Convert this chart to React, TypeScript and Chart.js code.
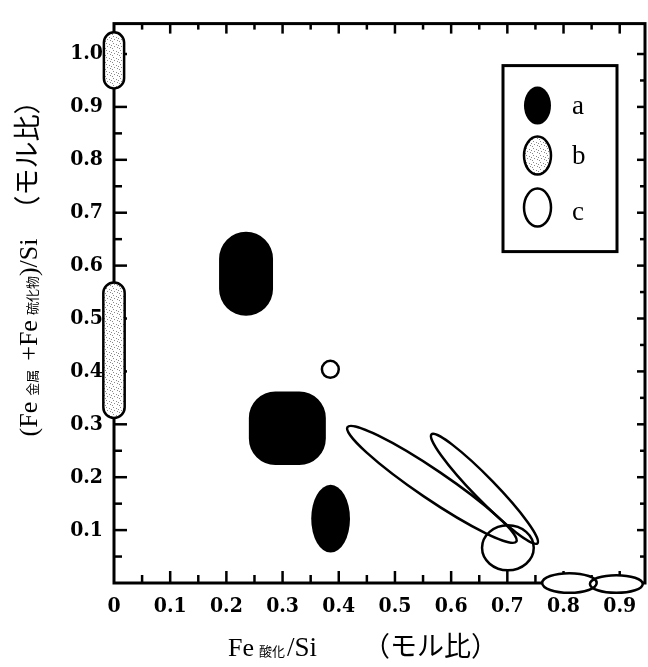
import React, { useEffect, useRef } from 'react';
import { Chart, registerables } from 'chart.js';

Chart.register(...registerables);

// ---- axis values ----
const xMajorTicks = [0, 0.1, 0.2, 0.3, 0.4, 0.5, 0.6, 0.7, 0.8, 0.9];
const xTickLabels = ['0', '0.1', '0.2', '0.3', '0.4', '0.5', '0.6', '0.7', '0.8', '0.9'];
const xMinorTicks = [0.05, 0.15, 0.25, 0.35, 0.45, 0.55, 0.65, 0.75, 0.85];
const yMajorTicks = [0.1, 0.2, 0.3, 0.4, 0.5, 0.6, 0.7, 0.8, 0.9, 1.0];
const yTickLabels = ['0.1', '0.2', '0.3', '0.4', '0.5', '0.6', '0.7', '0.8', '0.9', '1.0'];
const yMinorTicks = [0.05, 0.15, 0.25, 0.35, 0.45, 0.55, 0.65, 0.75, 0.85, 0.95];
const xRange = [0, 0.945];
const yRange = [0, 1.0575];

// ---- regions (data units) ----
// group a: filled black
const groupA = [
  { kind: 'capsule', x: [0.187, 0.283], y: [0.505, 0.664] },
  { kind: 'squircle', x: [0.240, 0.377], y: [0.223, 0.362] },
  { kind: 'ellipse', x: [0.351, 0.420], y: [0.0575, 0.1855] },
];
// group b: stippled
const groupB = [
  { kind: 'capsule', x: [-0.018, 0.018], y: [0.935, 1.041] },
  { kind: 'capsule', x: [-0.019, 0.019], y: [0.312, 0.568] },
];
// group c: open outlines
const groupC = [
  { kind: 'ellipse', x: [0.370, 0.400], y: [0.388, 0.420] },
  { kind: 'rotated', from: [0.4155, 0.2946], to: [0.716, 0.0783], half: 0.0258 },
  { kind: 'rotated', from: [0.565, 0.281], to: [0.7536, 0.0751], half: 0.0196 },
  { kind: 'ellipse', x: [0.655, 0.747], y: [0.024, 0.109] },
  { kind: 'ellipse', x: [0.762, 0.859], y: [-0.0186, 0.0186] },
  { kind: 'ellipse', x: [0.847, 0.941], y: [-0.0186, 0.0148] },
];
const legendLabels = ['a', 'b', 'c'];

const serif = '"Liberation Serif", "Times New Roman", serif';
const cjk = '"Noto Sans CJK JP", sans-serif';

const xTitle = [
  { t: 'Fe', font: `26px ${serif}`, gap: 5 },
  { t: '酸化', font: `13px ${cjk}`, gap: 2 },
  { t: '/Si', font: `27px ${serif}`, gap: 46 },
  { t: '（モル比）', font: `27px ${cjk}`, gap: 0 },
];
const yTitle = [
  { t: '(Fe', font: `26px ${serif}`, gap: 6 },
  { t: '金属', font: `13px ${cjk}`, gap: 9 },
  { t: '+Fe', font: `26px ${serif}`, gap: 5 },
  { t: '硫化物', font: `13px ${cjk}`, gap: 0 },
  { t: ')/Si', font: `26px ${serif}`, gap: 16 },
  { t: '（モル比）', font: `27px ${cjk}`, gap: 0 },
];

function centerOf(s: any) {
  if (s.kind === 'rotated') return { x: (s.from[0] + s.to[0]) / 2, y: (s.from[1] + s.to[1]) / 2 };
  return { x: (s.x[0] + s.x[1]) / 2, y: (s.y[0] + s.y[1]) / 2 };
}

function makeStipple() {
  const c = document.createElement('canvas');
  c.width = 7;
  c.height = 7;
  const g = c.getContext('2d')!;
  g.fillStyle = '#fff';
  g.fillRect(0, 0, 7, 7);
  g.fillStyle = '#8a8a8a';
  const dots = [[1, 1], [4, 2], [2, 4], [5, 5], [0, 6], [6, 3]];
  dots.forEach(([a, b]) => g.fillRect(a, b, 1, 1));
  return c;
}

function shapePath(ctx: CanvasRenderingContext2D, s: any, X: (v: number) => number, Y: (v: number) => number) {
  ctx.beginPath();
  if (s.kind === 'rotated') {
    const x1 = X(s.from[0]), y1 = Y(s.from[1]), x2 = X(s.to[0]), y2 = Y(s.to[1]);
    const cx = (x1 + x2) / 2, cy = (y1 + y2) / 2;
    const a = Math.hypot(x2 - x1, y2 - y1) / 2;
    const ang = Math.atan2(y2 - y1, x2 - x1);
    const b = X(s.half) - X(0);
    ctx.ellipse(cx, cy, a, b, ang, 0, Math.PI * 2);
  } else {
    const l = X(s.x[0]), r = X(s.x[1]), t = Y(s.y[1]), bt = Y(s.y[0]);
    const w = r - l, h = bt - t;
    if (s.kind === 'ellipse') {
      ctx.ellipse(l + w / 2, t + h / 2, w / 2, h / 2, 0, 0, Math.PI * 2);
    } else {
      const rad = (s.kind === 'capsule' ? 1 : 0.72) * Math.min(w, h) / 2;
      ctx.roundRect(l, t, w, h, rad);
    }
  }
  ctx.closePath();
}

function drawRich(ctx: CanvasRenderingContext2D, segs: any[], x: number, y: number, rot: number) {
  ctx.save();
  ctx.translate(x, y);
  ctx.rotate(rot);
  ctx.fillStyle = '#000';
  ctx.textBaseline = 'alphabetic';
  ctx.textAlign = 'left';
  const widths = segs.map((s) => {
    ctx.font = s.font;
    return ctx.measureText(s.t).width;
  });
  const total = widths.reduce((a, w, i) => a + w + segs[i].gap, 0);
  let cur = -total / 2;
  segs.forEach((s, i) => {
    ctx.font = s.font;
    ctx.fillText(s.t, cur, 0);
    cur += widths[i] + s.gap;
  });
  ctx.restore();
}

const regionPlugin = {
  id: 'regionPlugin',
  beforeDraw(chart: any) {
    const ctx = chart.ctx;
    ctx.save();
    ctx.fillStyle = '#fff';
    ctx.fillRect(0, 0, chart.width, chart.height);
    ctx.restore();
  },
  afterDraw(chart: any) {
    const { ctx, chartArea: ca } = chart;
    const xs = chart.scales.x, ys = chart.scales.y;
    const X = (v: number) => xs.getPixelForValue(v);
    const Y = (v: number) => ys.getPixelForValue(v);
    ctx.save();
    // frame
    ctx.strokeStyle = '#000';
    ctx.lineWidth = 3;
    ctx.lineJoin = 'miter';
    ctx.strokeRect(ca.left, ca.top, ca.right - ca.left, ca.bottom - ca.top);
    // inward ticks
    ctx.lineWidth = 2.5;
    const seg = (x1: number, y1: number, x2: number, y2: number) => {
      ctx.beginPath();
      ctx.moveTo(x1, y1);
      ctx.lineTo(x2, y2);
      ctx.stroke();
    };
    xMajorTicks.forEach((v) => {
      if (v === 0) return;
      const p = X(v);
      seg(p, ca.bottom, p, ca.bottom - 12);
      seg(p, ca.top, p, ca.top + 10);
    });
    xMinorTicks.forEach((v) => {
      const p = X(v);
      seg(p, ca.bottom, p, ca.bottom - 8);
      seg(p, ca.top, p, ca.top + 6);
    });
    yMajorTicks.forEach((v) => {
      const p = Y(v);
      seg(ca.left, p, ca.left + 13, p);
      seg(ca.right, p, ca.right - 8, p);
    });
    yMinorTicks.forEach((v) => {
      const p = Y(v);
      seg(ca.left, p, ca.left + 8, p);
      seg(ca.right, p, ca.right - 5, p);
    });

    const stipple = ctx.createPattern(makeStipple(), 'repeat');
    groupC.forEach((s) => {
      shapePath(ctx, s, X, Y);
      ctx.fillStyle = '#fff';
      ctx.fill();
    });
    groupA.forEach((s) => {
      shapePath(ctx, s, X, Y);
      ctx.fillStyle = '#000';
      ctx.fill();
    });
    ctx.lineWidth = 2.5;
    groupB.forEach((s) => {
      shapePath(ctx, s, X, Y);
      ctx.fillStyle = stipple;
      ctx.fill();
      ctx.strokeStyle = '#000';
      ctx.stroke();
    });
    groupC.forEach((s) => {
      shapePath(ctx, s, X, Y);
      ctx.strokeStyle = '#000';
      ctx.stroke();
    });

    // legend
    const lx = ca.right - 142, ly = ca.top + 42, lw = 114, lh = 186;
    ctx.lineWidth = 3;
    ctx.strokeStyle = '#000';
    ctx.fillStyle = '#fff';
    ctx.fillRect(lx, ly, lw, lh);
    ctx.strokeRect(lx, ly, lw, lh);
    const itemY = [ly + 40, ly + 90, ly + 142];
    const fills = ['#000', stipple, '#fff'];
    legendLabels.forEach((lab, i) => {
      ctx.beginPath();
      ctx.ellipse(lx + 34.5, itemY[i], 13.5, 19, 0, 0, Math.PI * 2);
      ctx.fillStyle = fills[i];
      ctx.fill();
      if (i > 0) {
        ctx.lineWidth = 2.5;
        ctx.stroke();
      }
      ctx.fillStyle = '#000';
      ctx.font = `27px ${serif}`;
      ctx.textAlign = 'left';
      ctx.textBaseline = 'alphabetic';
      ctx.fillText(lab, lx + 69, itemY[i] + 8 + (i === 2 ? 4 : 0));
    });

    // axis titles
    drawRich(ctx, xTitle, ca.left + 249, 656, 0);
    drawRich(ctx, yTitle, 37, 262, -Math.PI / 2);
    ctx.restore();
  },
};

export default function App() {
  const ref = useRef<HTMLCanvasElement | null>(null);
  useEffect(() => {
    if (!ref.current) return;
    const tickFont = { family: '"DejaVu Serif Condensed", "DejaVu Serif", serif', size: 21, weight: 'bold' as const };
    const chart = new Chart(ref.current, {
      type: 'scatter',
      data: {
        datasets: [
          { label: 'a', data: groupA.map(centerOf), pointRadius: 0 },
          { label: 'b', data: groupB.map(centerOf), pointRadius: 0 },
          { label: 'c', data: groupC.map(centerOf), pointRadius: 0 },
        ],
      },
      options: {
        responsive: false,
        animation: false,
        events: [],
        layout: { padding: { top: 13, right: 3, left: 0, bottom: 0 } },
        plugins: { legend: { display: false }, tooltip: { enabled: false }, title: { display: false } },
        scales: {
          x: {
            type: 'linear',
            min: xRange[0],
            max: xRange[1],
            afterBuildTicks: (scale: any) => {
              scale.ticks = xMajorTicks.map((v) => ({ value: v }));
            },
            afterFit: (scale: any) => {
              scale.height = 84;
            },
            grid: { display: false, drawTicks: false },
            border: { display: false },
            ticks: {
              autoSkip: false,
              maxRotation: 0,
              padding: 11,
              color: '#000',
              font: tickFont,
              callback: (_v: any, i: number) => xTickLabels[i],
            },
          },
          y: {
            type: 'linear',
            min: yRange[0],
            max: yRange[1],
            afterBuildTicks: (scale: any) => {
              scale.ticks = yMajorTicks.map((v) => ({ value: v }));
            },
            afterFit: (scale: any) => {
              scale.width = 114;
            },
            grid: { display: false, drawTicks: false },
            border: { display: false },
            ticks: {
              autoSkip: false,
              padding: 11,
              color: '#000',
              font: tickFont,
              callback: (_v: any, i: number) => yTickLabels[i],
            },
          },
        },
      },
      plugins: [regionPlugin],
    } as any);
    return () => chart.destroy();
  }, []);
  return (
    <div style={{ position: 'absolute', left: 0, top: 0, width: 648, height: 667 }}>
      <canvas ref={ref} width={648} height={667} style={{ display: 'block' }} />
    </div>
  );
}
